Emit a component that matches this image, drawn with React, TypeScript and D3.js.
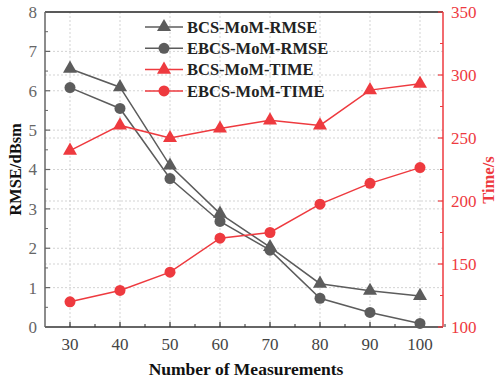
import { useEffect, useRef } from 'react';
import * as d3 from 'd3';

const measurements = [30, 40, 50, 60, 70, 80, 90, 100];
const bcsRmse = [6.56, 6.09, 4.1, 2.88, 2.03, 1.1, 0.92, 0.79];
const ebcsRmse = [6.08, 5.55, 3.77, 2.68, 1.95, 0.73, 0.37, 0.09];
const bcsTime = [240, 260, 250, 257.5, 264, 260, 288, 293];
const ebcsTime = [120, 129, 143.5, 170.5, 175, 197.5, 214, 226.5];

const xTicks = [30, 40, 50, 60, 70, 80, 90, 100];
const leftTicks = [0, 1, 2, 3, 4, 5, 6, 7, 8];
const rightTicks = [100, 150, 200, 250, 300, 350];

const GRAY = '#5c5c5c';
const RED = '#ee3a3f';
const FONT = '"Liberation Serif", "Times New Roman", serif';

const legendItems = [
  { label: 'BCS-MoM-RMSE', color: GRAY, shape: 'tri' },
  { label: 'EBCS-MoM-RMSE', color: GRAY, shape: 'circle' },
  { label: 'BCS-MoM-TIME', color: RED, shape: 'tri' },
  { label: 'EBCS-MoM-TIME', color: RED, shape: 'circle' },
];

export default function App() {
  const ref = useRef<SVGSVGElement>(null);

  useEffect(() => {
    const svg = d3.select(ref.current);
    svg.selectAll('*').remove();

    const left = 45, right = 443, top = 12, bottom = 327;
    const x = d3.scaleLinear().domain([25, 104.6]).range([left, right]);
    const yL = d3.scaleLinear().domain([0, 8]).range([bottom, top]);
    const yR = d3.scaleLinear().domain([100, 350]).range([bottom, top]);

    const grid = svg.append('g').attr('stroke', '#c8c8c8').attr('stroke-width', 0.8).attr('stroke-dasharray', '2,2');
    xTicks.forEach((t) => {
      grid.append('line').attr('x1', x(t)).attr('x2', x(t)).attr('y1', top).attr('y2', bottom);
    });
    leftTicks.slice(1, -1).forEach((t) => {
      grid.append('line').attr('x1', left).attr('x2', right).attr('y1', yL(t)).attr('y2', yL(t));
    });
    rightTicks.slice(1, -1).forEach((t) => {
      grid.append('line').attr('x1', left).attr('x2', right).attr('y1', yR(t)).attr('y2', yR(t));
    });

    // frame
    svg.append('line').attr('x1', left).attr('x2', right).attr('y1', top).attr('y2', top).attr('stroke', '#222').attr('stroke-width', 1.5);
    svg.append('line').attr('x1', left).attr('x2', right).attr('y1', bottom).attr('y2', bottom).attr('stroke', '#333').attr('stroke-width', 1.5);
    svg.append('line').attr('x1', left).attr('x2', left).attr('y1', top).attr('y2', bottom).attr('stroke', '#666').attr('stroke-width', 1.5);
    svg.append('line').attr('x1', right).attr('x2', right).attr('y1', top).attr('y2', bottom).attr('stroke', RED).attr('stroke-width', 1.5);

    // bottom ticks
    const bt = svg.append('g');
    xTicks.forEach((t) => {
      bt.append('line').attr('x1', x(t)).attr('x2', x(t)).attr('y1', bottom).attr('y2', bottom - 5).attr('stroke', '#333').attr('stroke-width', 1.2);
      bt.append('line').attr('x1', x(t + 5)).attr('x2', x(t + 5)).attr('y1', bottom).attr('y2', bottom - 3).attr('stroke', '#333').attr('stroke-width', 1);
      bt.append('text').attr('x', x(t)).attr('y', bottom + 23).attr('text-anchor', 'middle')
        .attr('font-family', FONT).attr('font-size', 17).attr('fill', '#444').text(t);
    });

    // left ticks
    leftTicks.forEach((t) => {
      svg.append('line').attr('x1', left).attr('x2', left + 5).attr('y1', yL(t)).attr('y2', yL(t)).attr('stroke', '#666').attr('stroke-width', 1.2);
      if (t < 8) svg.append('line').attr('x1', left).attr('x2', left + 3).attr('y1', yL(t + 0.5)).attr('y2', yL(t + 0.5)).attr('stroke', '#666').attr('stroke-width', 1);
      svg.append('text').attr('x', left - 8).attr('y', yL(t)).attr('dy', '0.35em').attr('text-anchor', 'end')
        .attr('font-family', FONT).attr('font-size', 17).attr('fill', '#666').text(t);
    });

    // right ticks
    rightTicks.forEach((t) => {
      svg.append('line').attr('x1', right).attr('x2', right - 5).attr('y1', yR(t)).attr('y2', yR(t)).attr('stroke', RED).attr('stroke-width', 1.2);
      if (t < 350) svg.append('line').attr('x1', right).attr('x2', right - 3).attr('y1', yR(t + 25)).attr('y2', yR(t + 25)).attr('stroke', RED).attr('stroke-width', 1);
      svg.append('text').attr('x', right + 8).attr('y', yR(t)).attr('dy', '0.35em').attr('text-anchor', 'start')
        .attr('font-family', FONT).attr('font-size', 17).attr('fill', RED).text(t);
    });

    // axis titles
    svg.append('text').attr('transform', `translate(21,${(top + bottom) / 2}) rotate(-90)`).attr('text-anchor', 'middle')
      .attr('font-family', FONT).attr('font-size', 16.5).attr('font-weight', 'bold').attr('fill', '#111').text('RMSE/dBsm');
    svg.append('text').attr('transform', `translate(494,180) rotate(-90)`).attr('text-anchor', 'middle')
      .attr('font-family', FONT).attr('font-size', 16.5).attr('font-weight', 'bold').attr('fill', RED).text('Time/s');
    svg.append('text').attr('x', 246).attr('y', 375).attr('text-anchor', 'middle')
      .attr('font-family', FONT).attr('font-size', 17.5).attr('font-weight', 'bold').attr('fill', '#111').text('Number of Measurements');

    const tri = d3.symbol().type(d3.symbolTriangle).size(85);
    const drawSeries = (vals: number[], y: d3.ScaleLinear<number, number>, color: string, shape: string) => {
      const pts = measurements.map((m, i) => [x(m), y(vals[i])] as [number, number]);
      svg.append('path').attr('d', d3.line()(pts)).attr('fill', 'none').attr('stroke', color).attr('stroke-width', 1.5);
      pts.forEach(([px, py]) => {
        if (shape === 'tri') {
          svg.append('path').attr('d', tri()).attr('transform', `translate(${px},${py})`).attr('fill', color);
        } else {
          svg.append('circle').attr('cx', px).attr('cy', py).attr('r', 5.5).attr('fill', color);
        }
      });
    };
    drawSeries(bcsRmse, yL, GRAY, 'tri');
    drawSeries(ebcsRmse, yL, GRAY, 'circle');
    drawSeries(bcsTime, yR, RED, 'tri');
    drawSeries(ebcsTime, yR, RED, 'circle');

    // legend
    const lg = svg.append('g');
    legendItems.forEach((d, i) => {
      const ly = 27 + i * 21.3;
      lg.append('line').attr('x1', 145).attr('x2', 183).attr('y1', ly).attr('y2', ly).attr('stroke', d.color).attr('stroke-width', 1.5);
      if (d.shape === 'tri') lg.append('path').attr('d', tri()).attr('transform', `translate(164,${ly})`).attr('fill', d.color);
      else lg.append('circle').attr('cx', 164).attr('cy', ly).attr('r', 5.5).attr('fill', d.color);
      lg.append('text').attr('x', 187).attr('y', ly).attr('dy', '0.35em').attr('font-family', FONT).attr('font-size', 16.5)
        .attr('font-weight', 'bold').attr('fill', '#222').text(d.label);
    });
  }, []);

  return <svg ref={ref} width={500} height={386} style={{ position: 'absolute', left: 0, top: 0, background: '#fff' }} />;
}
